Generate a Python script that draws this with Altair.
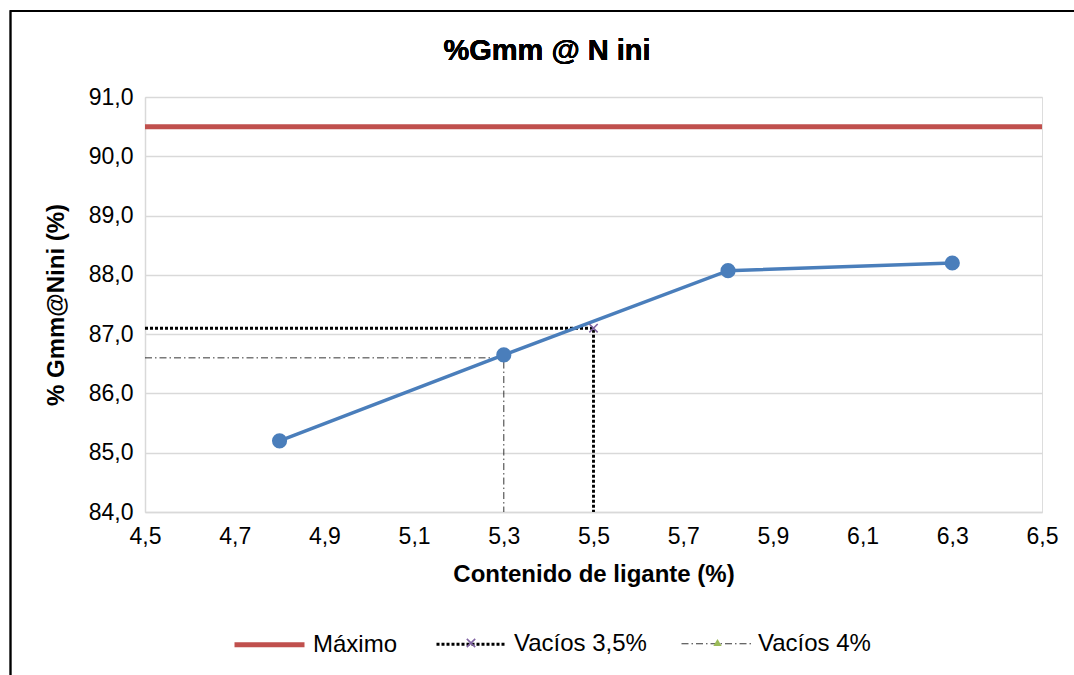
import altair as alt
import pandas as pd

# ---- data ----
ligante = [4.8, 5.3, 5.8, 6.3]
gmm_nini = [85.2, 86.65, 88.07, 88.2]

series_names = ["Máximo", "Vacíos 3,5%", "Vacíos 4%"]
max_x = [4.5, 6.5]
max_y = [90.5, 90.5]
v35_x = [4.5, 5.5, 5.5]
v35_y = [87.1, 87.1, 84.0]
v4_x = [4.5, 5.3, 5.3]
v4_y = [86.6, 86.6, 84.0]

x_ticks = [4.5, 4.7, 4.9, 5.1, 5.3, 5.5, 5.7, 5.9, 6.1, 6.3, 6.5]
y_ticks = [84.0, 85.0, 86.0, 87.0, 88.0, 89.0, 90.0, 91.0]

chart_title = "%Gmm  @ N ini"

FONT = "Liberation Sans"

main_df = pd.DataFrame({"x": ligante, "y": gmm_nini})

rows = []
for name, xs, ys in zip(series_names, [max_x, v35_x, v4_x], [max_y, v35_y, v4_y]):
    for i, (xv, yv) in enumerate(zip(xs, ys)):
        rows.append({"serie": name, "x": xv, "y": yv, "i": i})
ref_df = pd.DataFrame(rows)
mk35_df = pd.DataFrame({"m35": [series_names[1]], "x": [v35_x[1]], "y": [v35_y[1]]})
mk4_df = pd.DataFrame({"m4": [series_names[2]], "x": [v4_x[1]], "y": [v4_y[1]]})

label_expr = "replace(format(datum.value, '.1f'), '.', ',')"

x_enc = alt.X(
    "x:Q",
    scale=alt.Scale(domain=[4.5, 6.5], nice=False, zero=False),
    axis=alt.Axis(
        values=x_ticks, labelExpr=label_expr, title="Contenido de ligante (%)",
        grid=False, ticks=False, domain=True, domainColor="#d9d9d9", domainWidth=1.5,
        labelFlush=False, labelOverlap=False, labelBound=False,
        labelFont=FONT, labelFontSize=23, labelColor="#000000", labelPadding=13,
        titleFont=FONT, titleFontSize=24, titleFontWeight="bold", titleColor="#000000",
        titlePadding=14,
    ),
)
y_enc = alt.Y(
    "y:Q",
    scale=alt.Scale(domain=[84.0, 91.0], nice=False, zero=False),
    axis=alt.Axis(
        values=y_ticks, labelExpr=label_expr, title="% Gmm@Nini (%)",
        grid=True, gridColor="#d9d9d9", gridWidth=1.5, ticks=False, domain=True,
        domainColor="#d9d9d9", domainWidth=1.5,
        labelFlush=False, labelOverlap=False, labelBound=False,
        labelFont=FONT, labelFontSize=23, labelColor="#000000", labelPadding=12,
        titleFont=FONT, titleFontSize=24, titleFontWeight="bold", titleColor="#000000",
        titlePadding=20,
    ),
)

color_scale = alt.Scale(domain=series_names, range=["#c0504d", "#000000", "#000000"])
dash_scale = alt.Scale(domain=series_names, range=[[1, 0], [3, 2], [7, 3, 1.5, 3]])
width_scale = alt.Scale(domain=series_names, range=[5, 0.8, 1])

legend = alt.Legend(
    title=None, orient="none", direction="horizontal", legendX=87, legendY=510,
    symbolType="stroke", symbolSize=4900, labelFont=FONT, labelFontSize=24,
    labelColor="#000000", labelOffset=6, columnPadding=32, padding=0,
)

ref_lines = alt.Chart(ref_df).mark_line().encode(
    x=x_enc, y=y_enc,
    color=alt.Color("serie:N", scale=color_scale, legend=legend),
    strokeDash=alt.StrokeDash("serie:N", scale=dash_scale, legend=legend),
    strokeWidth=alt.StrokeWidth("serie:N", scale=width_scale, legend=legend),
    order="i:Q",
    detail="serie:N",
)

X_PATH = "M-1,-1L1,1M-1,1L1,-1"

mk35 = alt.Chart(mk35_df).mark_point(
    filled=False, stroke="#8064a2", strokeWidth=1.6, size=70, opacity=1,
).encode(
    x="x:Q", y="y:Q",
    shape=alt.Shape("m35:N", scale=alt.Scale(domain=[series_names[1]], range=[X_PATH]),
                    legend=alt.Legend(title=None, orient="none", legendX=321, legendY=541,
                                      labelExpr="''", labelFontSize=1, labelOffset=0, padding=0,
                                      symbolSize=70, symbolStrokeWidth=1.6,
                                      symbolStrokeColor="#8064a2", symbolFillColor="transparent")),
)
mk4 = alt.Chart(mk4_df).mark_point(
    filled=True, fill="#9bbb59", size=70, opacity=1,
).encode(
    x="x:Q", y="y:Q",
    shape=alt.Shape("m4:N", scale=alt.Scale(domain=[series_names[2]], range=["triangle-up"]),
                    legend=alt.Legend(title=None, orient="none", legendX=568, legendY=541,
                                      labelExpr="''", labelFontSize=1, labelOffset=0, padding=0,
                                      symbolSize=70, symbolStrokeWidth=0,
                                      symbolFillColor="#9bbb59")),
)

blue_line = alt.Chart(main_df).mark_line(color="#4a7ebb", strokeWidth=3.5).encode(x="x:Q", y="y:Q")
blue_pts = alt.Chart(main_df).mark_point(filled=True, color="#4a7ebb", opacity=1, size=230).encode(x="x:Q", y="y:Q")

title_mark = alt.Chart(main_df).mark_text(
    font=FONT, fontSize=29, fontWeight="bold", color="#000000",
    align="center", baseline="alphabetic",
).encode(x=alt.value(402), y=alt.value(-37), text=alt.value(chart_title))

frame = alt.Chart(main_df).mark_rect(fill=None, stroke="#000000", strokeWidth=1.5).encode(
    x=alt.value(-134.5), x2=alt.value(1100), y=alt.value(-86), y2=alt.value(700)
)

chart = alt.layer(ref_lines, mk4, blue_line, blue_pts, mk35, title_mark, frame).resolve_scale(
    shape="independent"
).resolve_legend(shape="independent").properties(
    width=897, height=415,
    autosize=alt.AutoSizeParams(type="none"),
    padding={"left": 145, "top": 97, "right": 32, "bottom": 163},
).configure_view(stroke=None).configure(background="#ffffff")

chart.save("out.html", embed_options={"renderer": "svg", "actions": False})
